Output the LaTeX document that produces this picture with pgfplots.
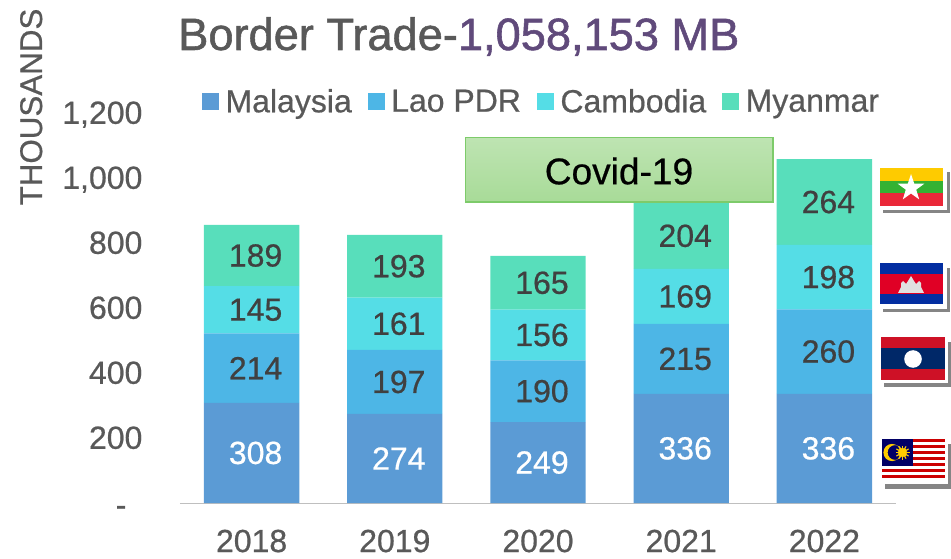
\documentclass[border=0pt]{standalone}
\usepackage{pgfplots}
\pgfplotsset{compat=1.18}
\usepackage{pgfplotstable}
\usepackage{fontspec}
\setmainfont{Liberation Sans}[BoldFont=Liberation Sans,BoldFeatures={FakeBold=0.6}]
\newfontfamily\heavyfont{Liberation Sans}[FakeBold=1.2]
\definecolor{cMal}{HTML}{5B9BD5}
\definecolor{cLao}{HTML}{4DB6E6}
\definecolor{cCam}{HTML}{55DDE6}
\definecolor{cMya}{HTML}{58DEBB}
\definecolor{txt}{HTML}{595959}
\definecolor{lab}{HTML}{404040}
\definecolor{ttl}{HTML}{604A7B}
\definecolor{shad}{HTML}{858585}
\definecolor{boxT}{HTML}{BEE4B2}
\definecolor{boxB}{HTML}{A8DB98}
\definecolor{boxE}{HTML}{7DCB6A}
\definecolor{myY}{HTML}{FECB00}
\definecolor{myG}{HTML}{34B233}
\definecolor{myR}{HTML}{EA2839}
\definecolor{caB}{HTML}{032EA1}
\definecolor{caR}{HTML}{E00025}
\definecolor{laR}{HTML}{CE1126}
\definecolor{laB}{HTML}{002868}
\definecolor{maR}{HTML}{CC0001}
\definecolor{maB}{HTML}{010066}
\definecolor{maY}{HTML}{FFCC00}
\pgfplotstableread{
x v
0 308
1 274
2 249
3 336
4 336
}\malaysia
\pgfplotstableread{
x v
0 214
1 197
2 190
3 215
4 260
}\lao
\pgfplotstableread{
x v
0 145
1 161
2 156
3 169
4 198
}\cambodia
\pgfplotstableread{
x v
0 189
1 193
2 165
3 204
4 264
}\myanmar
\begin{document}
\begin{tikzpicture}
\useasboundingbox (0,0) rectangle (713.25pt,418.5pt);
\begin{axis}[
  at={(135pt,41.25pt)}, anchor=south west,
  scale only axis, width=537pt, height=292.5pt,
  ybar stacked, bar width=71.5pt,
  xmin=-0.5, xmax=4.5, ymin=0, ymax=1200,
  axis lines=left,
  x axis line style={draw=black!25, line width=0.75pt, -},
  y axis line style={draw=none},
  xtick={0,1,2,3,4}, xticklabels={2018,2019,2020,2021,2022},
  ytick={0,200,400,600,800,1000,1200},
  yticklabels={{\raisebox{-1.5pt}{-}\rule{12pt}{0pt}},200,400,600,800,{1,000},{1,200}},
  major tick length=0pt,
  ticklabel style={font=\fontsize{24}{24}\selectfont\bfseries, text=txt},
  yticklabel style={xshift=-28pt, yshift=0.5pt, inner sep=0pt, anchor=east, text height=17.2pt, text depth=0pt},
  xticklabel style={yshift=-16.5pt},
  legend columns=-1,
  legend cell align=left,
  legend style={at={(axis description cs:0.0307,1.029)}, anchor=west, draw=none, fill=none,
    inner sep=0pt, outer sep=0pt,
    font=\fontsize{24}{24}\selectfont\bfseries, text=txt,
    /tikz/every even column/.append style={column sep=11.9pt},
    /tikz/every odd column/.append style={column sep=4.9pt},
    nodes={inner sep=0pt}},
  legend image code/.code={\fill[#1] (0pt,-6.4pt) rectangle (12.75pt,6.4pt);},
  visualization depends on={\thisrow{v} \as \val},
  nodes near coords={\pgfmathprintnumber[assume math mode=true]{\val}},
  every node near coord/.append style={anchor=center, xshift=3pt, font=\fontsize{24}{24}\selectfont\bfseries},
]
\addplot[fill=cMal, draw=none, nodes near coords style={text=white}] table[x=x,y=v]{\malaysia};
\addplot[fill=cLao, draw=none, nodes near coords style={text=lab}] table[x=x,y=v]{\lao};
\addplot[fill=cCam, draw=none, nodes near coords style={text=lab}] table[x=x,y=v]{\cambodia};
\addplot[fill=cMya, draw=none, nodes near coords style={text=lab}] table[x=x,y=v]{\myanmar};
\legend{Malaysia,Lao PDR,Cambodia,Myanmar}
\end{axis}
\begin{scope}[shift={(0,418.5pt)},x=0.75pt,y=-0.75pt]
% title and axis title
\node[anchor=base west, inner sep=0pt, font=\fontsize{33.9}{34}\selectfont\heavyfont, text=txt] at (178,50)
  {Border Trade-\textcolor{ttl}{1,058,153 MB}};
\node[rotate=90, anchor=base, inner sep=0pt, font=\fontsize{23.5}{24}\selectfont\bfseries, text=txt] at (42,107) {THOUSANDS};
% Covid box
\shade[top color=boxT, bottom color=boxB] (465.5,137.5) rectangle (773,202);
\draw[draw=boxE, line width=0.9pt] (465.5,137.5) rectangle (773,202);
\node[font=\fontsize{27.8}{28}\selectfont\bfseries, text=black, inner sep=0pt] at (619,171) {Covid-19};
% Myanmar flag
\fill[shad] (883,172) rectangle (950,213);
\fill[white] (878,166) rectangle (947,210);
\fill[myY] (880,168) rectangle (943,181);
\fill[myG] (880,181) rectangle (943,193);
\fill[myR] (880,193) rectangle (943,206);
\fill[white] (911,174)--(914.2,183.6)--(924.3,183.7)--(916.2,189.7)--(919.2,199.4)--(911,193.5)--(902.8,199.4)--(905.8,189.7)--(897.7,183.7)--(907.8,183.6)--cycle;
% Cambodia flag
\fill[shad] (883,268) rectangle (950,312);
\fill[white] (878,261) rectangle (947,309);
\fill[caB] (880,263) rectangle (943,304);
\fill[caR] (880,274) rectangle (943,294);
\fill[black!12] (898,293)--(901,287)--(901,283)--(903,281)--(905,283)--(906,284)--(908,281)--(911,276)--(914,281)--(916,284)--(917,283)--(919,281)--(921,283)--(921,287)--(924,293)--cycle;
% Laos flag
\fill[shad] (884,342) rectangle (951,387);
\fill[white] (879,335) rectangle (948,383);
\fill[laR] (881,337) rectangle (945,380);
\fill[laB] (881,348) rectangle (945,369);
\fill[white] (913,359) circle (8.8);
% Malaysia flag
\fill[shad] (885,444) rectangle (951,489);
\fill[white] (880,437) rectangle (948,484);
\fill[white] (882,439) rectangle (945,481);
\foreach \i in {0,2,4,6,8,10,12}{
  \fill[maR] (882,{439+\i*3}) rectangle (945,{439+(\i+1)*3});
}
\fill[maB] (882,439) rectangle (913,466);
\fill[maY, even odd rule] (892,452.5) circle (8.6) (895,452.5) circle (7.4);
\fill[maY] (902.5,452.5) circle (4.6);
\foreach \a in {0,30,...,330}{
  \draw[maY, line width=0.9pt] (902.5,452.5) -- ++(\a:7);
}
\end{scope}
\end{tikzpicture}
\end{document}
